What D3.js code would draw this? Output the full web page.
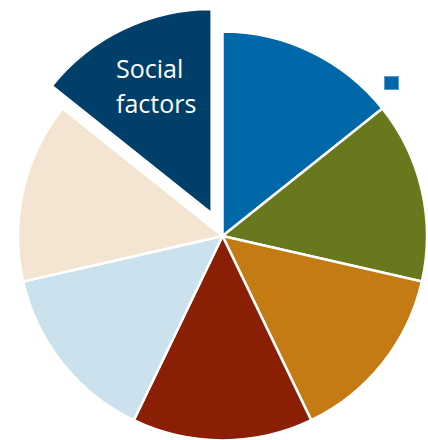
<!DOCTYPE html>
<html>
<head>
<meta charset="utf-8">
<script src="https://cdn.jsdelivr.net/npm/d3@7"></script>
<style>
  html, body { margin: 0; padding: 0; background: #ffffff; }
  svg { display: block; }
</style>
</head>
<body>
<svg id="chart" width="428" height="440"></svg>
<script>
// Seven equal segments, clockwise from 12 o'clock
const labels = ["", "", "", "", "", "", "Social factors"];
const values = [1, 1, 1, 1, 1, 1, 1];
const colors = ["#0067a8", "#68781c", "#c47b13", "#8a1f05", "#cce1ee", "#f3e5d2", "#003f6a"];
const explodedIndex = 6;

const width = 428, height = 440;
const cx = 222.5, cy = 236, radius = 204.5, explode = 25;

const svg = d3.select("#chart");
const g = svg.append("g").attr("transform", `translate(${cx},${cy})`);

const pie = d3.pie().sort(null).value(d => d.value).startAngle(0).endAngle(2 * Math.PI);
const arc = d3.arc().innerRadius(0).outerRadius(radius);

const data = values.map((v, i) => ({ value: v, label: labels[i], color: colors[i], index: i }));
const arcs = pie(data);

function offset(d) {
  if (d.data.index !== explodedIndex) return [0, 0];
  const mid = (d.startAngle + d.endAngle) / 2;
  return [Math.sin(mid) * explode, -Math.cos(mid) * explode];
}

const slices = g.selectAll("g.slice")
  .data(arcs)
  .join("g")
  .attr("class", "slice")
  .attr("transform", d => { const o = offset(d); return `translate(${o[0]},${o[1]})`; });

slices.append("path")
  .attr("d", arc)
  .attr("fill", d => d.data.color)
  .attr("stroke", "#ffffff")
  .attr("stroke-width", 2.5)
  .attr("stroke-linejoin", "miter");

// Label for the exploded segment, two lines
const labelled = arcs.filter(d => d.data.label);
labelled.forEach(d => {
  const words = d.data.label.split(" ");
  const text = svg.append("text")
    .attr("x", 116)
    .attr("y", 78)
    .attr("fill", "#ffffff")
    .attr("font-family", "'Open Sans', 'Noto Sans', sans-serif")
    .attr("font-size", 25);
  words.forEach((w, i) => {
    text.append("tspan")
      .attr("x", 116)
      .attr("dy", i === 0 ? 0 : 34.5)
      .text(w);
  });
});

// Small legend key marker
svg.append("rect")
  .attr("x", 384.5)
  .attr("y", 76.5)
  .attr("width", 14)
  .attr("height", 13)
  .attr("fill", colors[0])
  .attr("stroke", "#5a9ac8")
  .attr("stroke-width", 1);
</script>
</body>
</html>
